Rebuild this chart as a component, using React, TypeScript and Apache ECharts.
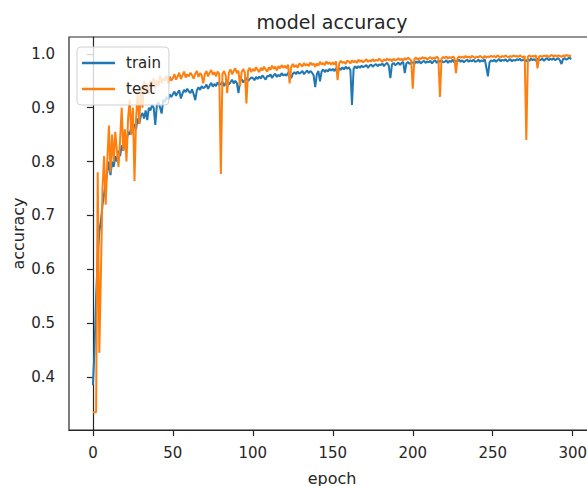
import React, { useEffect, useRef } from "react";
import * as echarts from "echarts";

const titleText = "model accuracy";
const xName = "epoch";
const yName = "accuracy";
const seriesNames = ["train", "test"];
const xTicks = [0, 50, 100, 150, 200, 250, 300];
const yTicks = [0.4, 0.5, 0.6, 0.7, 0.8, 0.9, 1.0];

// train accuracy per epoch (0..299)
const trainAcc = [
  0.385, 0.45, 0.55, 0.62, 0.67, 0.69, 0.72, 0.74, 0.76, 0.78,
  0.80, 0.775, 0.80, 0.79, 0.81, 0.80, 0.82, 0.81, 0.83, 0.82,
  0.84, 0.835, 0.855, 0.85, 0.865, 0.855, 0.87, 0.86, 0.88, 0.87,
  0.885, 0.89, 0.88, 0.895, 0.877, 0.90, 0.895, 0.905, 0.90, 0.868,
  0.905, 0.91, 0.90, 0.889, 0.915, 0.91, 0.92, 0.915, 0.925, 0.92,
  0.925, 0.93, 0.922, 0.928, 0.932, 0.917, 0.926, 0.933, 0.929, 0.935,
  0.93, 0.927, 0.934, 0.925, 0.914, 0.932, 0.938, 0.933, 0.94, 0.936,
  0.938, 0.943, 0.935, 0.941, 0.946, 0.939, 0.944, 0.94, 0.947, 0.942,
  0.944, 0.948, 0.94, 0.946, 0.951, 0.943, 0.947, 0.952, 0.945, 0.95,
  0.946, 0.927, 0.949, 0.953, 0.947, 0.951, 0.955, 0.949, 0.953, 0.956,
  0.955, 0.951, 0.957, 0.953, 0.958, 0.954, 0.96, 0.956, 0.952, 0.959,
  0.958, 0.962, 0.955, 0.96, 0.963, 0.957, 0.961, 0.958, 0.964, 0.96,
  0.962, 0.959, 0.965, 0.961, 0.955, 0.963, 0.966, 0.962, 0.967, 0.963,
  0.965, 0.968, 0.962, 0.966, 0.969, 0.964, 0.968, 0.965, 0.96, 0.938,
  0.962, 0.968, 0.949, 0.967, 0.971, 0.966, 0.97, 0.967, 0.972, 0.969,
  0.972, 0.968, 0.973, 0.964, 0.974, 0.97, 0.975, 0.971, 0.976, 0.972,
  0.975, 0.97, 0.905, 0.972, 0.977, 0.973, 0.977, 0.974, 0.978, 0.975,
  0.977, 0.979, 0.974, 0.978, 0.98, 0.976, 0.979, 0.981, 0.977, 0.98,
  0.979, 0.982, 0.977, 0.981, 0.983, 0.978, 0.955, 0.98, 0.983, 0.979,
  0.981, 0.984, 0.979, 0.983, 0.985, 0.964, 0.982, 0.985, 0.981, 0.984,
  0.984, 0.981, 0.986, 0.983, 0.987, 0.982, 0.985, 0.987, 0.983, 0.986,
  0.984, 0.987, 0.982, 0.986, 0.988, 0.983, 0.987, 0.985, 0.988, 0.984,
  0.985, 0.988, 0.983, 0.987, 0.985, 0.989, 0.984, 0.987, 0.986, 0.989,
  0.985, 0.988, 0.984, 0.987, 0.989, 0.985, 0.988, 0.986, 0.989, 0.985,
  0.986, 0.989, 0.985, 0.988, 0.986, 0.99, 0.975, 0.958, 0.984, 0.988,
  0.986, 0.989, 0.985, 0.988, 0.99, 0.986, 0.989, 0.987, 0.99, 0.986,
  0.988, 0.99, 0.986, 0.989, 0.987, 0.99, 0.988, 0.991, 0.987, 0.989,
  0.988, 0.986, 0.99, 0.987, 0.991, 0.988, 0.99, 0.987, 0.991, 0.988,
  0.989, 0.991, 0.987, 0.99, 0.992, 0.988, 0.991, 0.989, 0.992, 0.988,
  0.99, 0.992, 0.988, 0.981, 0.99, 0.992, 0.989, 0.991, 0.993, 0.99,
];

// test accuracy per epoch (0..299)
const testAcc = [
  0.335, 0.335, 0.335, 0.78, 0.445, 0.59, 0.75, 0.81, 0.72, 0.80,
  0.867, 0.78, 0.85, 0.80, 0.855, 0.82, 0.79, 0.84, 0.90, 0.82,
  0.86, 0.80, 0.88, 0.914, 0.85, 0.90, 0.764, 0.88, 0.93, 0.87,
  0.94, 0.90, 0.95, 0.93, 0.945, 0.925, 0.95, 0.94, 0.955, 0.935,
  0.95, 0.94, 0.96, 0.945, 0.955, 0.95, 0.96, 0.945, 0.958, 0.95,
  0.955, 0.962, 0.952, 0.958, 0.965, 0.953, 0.96, 0.967, 0.956, 0.962,
  0.958, 0.965, 0.96, 0.954, 0.963, 0.968, 0.957, 0.964, 0.96, 0.945,
  0.962, 0.968, 0.958, 0.965, 0.97, 0.961, 0.966, 0.958, 0.967, 0.963,
  0.777, 0.962, 0.968, 0.96, 0.927, 0.965, 0.971, 0.962, 0.968, 0.973,
  0.964, 0.969, 0.94, 0.966, 0.972, 0.965, 0.908, 0.968, 0.974, 0.966,
  0.972, 0.968, 0.975, 0.97, 0.966, 0.974, 0.969, 0.976, 0.971, 0.967,
  0.975, 0.97, 0.978, 0.972, 0.976, 0.969, 0.977, 0.973, 0.979, 0.974,
  0.978, 0.973, 0.98, 0.945, 0.976, 0.981, 0.975, 0.979, 0.974, 0.982,
  0.98, 0.976, 0.983, 0.978, 0.981, 0.977, 0.984, 0.979, 0.982, 0.976,
  0.982, 0.978, 0.985, 0.98, 0.983, 0.979, 0.986, 0.981, 0.984, 0.98,
  0.984, 0.98, 0.986, 0.951, 0.982, 0.987, 0.983, 0.985, 0.981, 0.987,
  0.986, 0.982, 0.988, 0.984, 0.987, 0.983, 0.989, 0.985, 0.988, 0.984,
  0.987, 0.99, 0.985, 0.988, 0.986, 0.99, 0.986, 0.989, 0.987, 0.991,
  0.988, 0.985, 0.99, 0.987, 0.991, 0.988, 0.99, 0.986, 0.991, 0.988,
  0.989, 0.992, 0.988, 0.991, 0.987, 0.992, 0.989, 0.993, 0.99, 0.988,
  0.935, 0.99, 0.993, 0.989, 0.992, 0.99, 0.994, 0.991, 0.993, 0.989,
  0.992, 0.994, 0.99, 0.993, 0.991, 0.995, 0.992, 0.92, 0.991, 0.994,
  0.992, 0.995, 0.991, 0.994, 0.992, 0.995, 0.993, 0.964, 0.992, 0.995,
  0.993, 0.995, 0.992, 0.996, 0.993, 0.995, 0.992, 0.996, 0.994, 0.992,
  0.995, 0.993, 0.996, 0.994, 0.992, 0.996, 0.993, 0.995, 0.994, 0.996,
  0.994, 0.996, 0.993, 0.997, 0.995, 0.993, 0.996, 0.994, 0.997, 0.995,
  0.993, 0.996, 0.994, 0.997, 0.995, 0.996, 0.994, 0.997, 0.995, 0.993,
  0.996, 0.84, 0.995, 0.997, 0.994, 0.996, 0.995, 0.997, 0.973, 0.995,
  0.996, 0.994, 0.997, 0.995, 0.997, 0.994, 0.996, 0.998, 0.995, 0.997,
  0.995, 0.997, 0.996, 0.994, 0.997, 0.995, 0.998, 0.996, 0.997, 0.995,
];

const colors = ["#1f77b4", "#ff7f0e"];
const font = "DejaVu Sans";
const ink = "#262626";

export default function App() {
  const ref = useRef<HTMLDivElement>(null);
  useEffect(() => {
    if (!ref.current) return;
    const chart = echarts.init(ref.current, undefined, { renderer: "svg" });
    const toPairs = (arr: number[]) => arr.map((v, i) => [i, v]);
    const n = trainAcc.length;
    const xMin = -0.05 * (n - 1);
    const xMax = (n - 1) * 1.05;
    const allVals = trainAcc.concat(testAcc);
    const lo = Math.min(...allVals);
    const hi = Math.max(...allVals);
    const pad = (hi - lo) * 0.05;
    chart.setOption({
      animation: false,
      backgroundColor: "#ffffff",
      color: colors,
      title: {
        text: titleText,
        left: 332,
        textAlign: "center",
        top: 12,
        padding: 0,
        textStyle: { fontFamily: font, fontSize: 19, fontWeight: "normal", color: ink },
      },
      legend: {
        data: seriesNames,
        orient: "vertical",
        left: 77,
        top: 47,
        padding: [8, 8, 8, 5],
        itemGap: 10,
        itemWidth: 33,
        itemHeight: 2.5,
        icon: "rect",
        backgroundColor: "rgba(255,255,255,0.8)",
        borderColor: "#d0d0d0",
        borderWidth: 1,
        borderRadius: 4,
        textStyle: { fontFamily: font, fontSize: 15, color: ink, lineHeight: 16, padding: [0, 0, 0, 6] },
      },
      grid: {
        left: 69,
        top: 37,
        width: 526,
        height: 393,
        show: true,
        borderColor: ink,
        borderWidth: 1.2,
        backgroundColor: "transparent",
        containLabel: false,
        outerBoundsMode: "none",
      },
      xAxis: {
        type: "value",
        min: xMin,
        max: xMax,
        name: xName,
        nameLocation: "middle",
        nameGap: 40,
        nameTextStyle: { fontFamily: font, fontSize: 16, color: ink },
        axisLine: { show: true, lineStyle: { color: ink, width: 1.2 } },
        axisTick: { show: true, length: 6, customValues: xTicks, lineStyle: { color: ink, width: 1.2 } },
        axisLabel: {
          customValues: xTicks,
          fontFamily: font,
          fontSize: 15,
          color: ink,
          margin: 15,
          formatter: (v: number) => String(Math.round(v)),
        },
        splitLine: { show: false },
      },
      yAxis: {
        type: "value",
        min: lo - pad,
        max: hi + pad,
        name: yName,
        nameLocation: "middle",
        nameGap: 43,
        nameMoveOverlap: false,
        nameTextStyle: { fontFamily: font, fontSize: 16, color: ink },
        axisLine: { show: true, lineStyle: { color: ink, width: 1.2 } },
        axisTick: { show: true, length: 6, customValues: yTicks, lineStyle: { color: ink, width: 1.2 } },
        axisLabel: {
          customValues: yTicks,
          fontFamily: font,
          fontSize: 15,
          color: ink,
          margin: 14,
          formatter: (v: number) => v.toFixed(1),
        },
        splitLine: { show: false },
      },
      series: [
        {
          name: seriesNames[0],
          type: "line",
          data: toPairs(trainAcc),
          showSymbol: false,
          symbol: "none",
          lineStyle: { width: 2, color: colors[0] },
          itemStyle: { color: colors[0] },
          z: 2,
        },
        {
          name: seriesNames[1],
          type: "line",
          data: toPairs(testAcc),
          showSymbol: false,
          symbol: "none",
          lineStyle: { width: 2, color: colors[1] },
          itemStyle: { color: colors[1] },
          z: 3,
        },
      ],
    });
    return () => chart.dispose();
  }, []);
  return (
    <div
      ref={ref}
      style={{ position: "absolute", left: 0, top: 0, width: 587, height: 486, background: "#fff" }}
    />
  );
}
